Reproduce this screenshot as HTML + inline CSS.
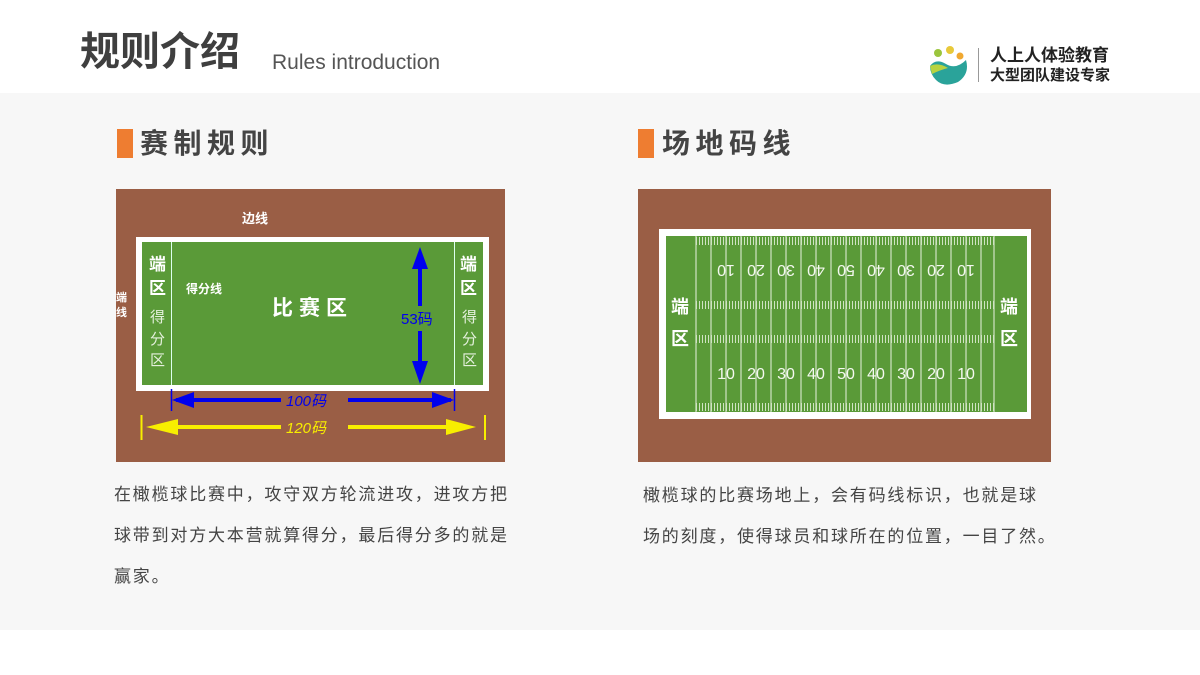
<!DOCTYPE html>
<html><head><meta charset="utf-8"><style>
body{margin:0;width:1200px;height:675px;background:#fff;position:relative;overflow:hidden;font-family:"Liberation Sans","Noto Sans CJK SC",sans-serif}
.band{position:absolute;left:0;top:93px;width:1200px;height:537px;background:#f7f7f7}
.abs{position:absolute}
.h1{left:80px;top:26px;font-size:40px;font-weight:bold;color:#3f3f3f;line-height:52px}
.en{left:272px;top:50px;font-size:21px;color:#555;line-height:26px}
.bar{width:16px;height:29px;background:#ee7d31}
.h2{font-size:28px;font-weight:bold;color:#444;letter-spacing:5.5px;line-height:34px}
.p{font-size:17px;color:#444;line-height:41px;letter-spacing:1.8px;white-space:nowrap}
</style></head><body>
<div class="band"></div>
<div class="abs h1">规则介绍</div>
<div class="abs en">Rules introduction</div>
<svg class="abs" style="left:926px;top:44px" width="46" height="42" viewBox="0 0 46 42">
<circle cx="12" cy="9" r="4" fill="#9bc53d"/><circle cx="24" cy="6" r="4" fill="#e8c93a"/><circle cx="34" cy="12" r="3.5" fill="#f0a830"/>
<path d="M4 22 Q10 14 20 20 Q30 26 40 16 Q44 30 32 38 Q18 44 10 36 Q4 30 4 22Z" fill="#2aa39a"/>
<path d="M4 22 Q12 18 22 24 Q14 26 6 30Z" fill="#b8d340"/></svg>
<div class="abs" style="left:978px;top:48px;width:1px;height:34px;background:#999"></div>
<div class="abs" style="left:990px;top:46px;font-size:17px;font-weight:bold;color:#222;line-height:19px">人上人体验教育<br><span style="font-size:15px">大型团队建设专家</span></div>

<div class="abs bar" style="left:117px;top:129px"></div>
<div class="abs h2" style="left:140px;top:127px">赛制规则</div>
<div class="abs bar" style="left:638px;top:129px"></div>
<div class="abs h2" style="left:662px;top:127px">场地码线</div>

<svg class="abs" style="left:116px;top:189px" width="389" height="273" viewBox="0 0 389 273" font-family="Liberation Sans, Noto Sans CJK SC, sans-serif">
<rect width="389" height="273" fill="#9a5e45"/>
<rect x="20" y="48" width="353" height="154" fill="#fff"/>
<rect x="26" y="53" width="341" height="143" fill="#5a9a38"/>
<line x1="55.5" y1="53" x2="55.5" y2="196" stroke="#dfe" stroke-width="1"/>
<line x1="338.5" y1="53" x2="338.5" y2="196" stroke="#dfe" stroke-width="1"/>
<text x="126" y="34" fill="#fff" font-size="13" font-weight="bold">边线</text>
<text x="0" y="112" fill="#fff" font-size="11" font-weight="bold">端</text>
<text x="0" y="127" fill="#fff" font-size="11" font-weight="bold">线</text>
<g fill="#fff" font-size="17" font-weight="bold"><text x="33" y="81">端</text><text x="33" y="105">区</text><text x="344" y="81">端</text><text x="344" y="105">区</text></g>
<g fill="#e4f0dc" font-size="15"><text x="34" y="133">得</text><text x="34" y="155">分</text><text x="34" y="176">区</text><text x="346" y="133">得</text><text x="346" y="155">分</text><text x="346" y="176">区</text></g>
<text x="70" y="104" fill="#fff" font-size="12" font-weight="bold">得分线</text>
<text x="156" y="126" fill="#fff" font-size="21" font-weight="bold" letter-spacing="6">比赛区</text>
<g fill="#0000ee" stroke="#0000ee">
<line x1="304" y1="72" x2="304" y2="117" stroke-width="4"/><polygon points="296,80 304,58 312,80" stroke="none"/>
<line x1="304" y1="142" x2="304" y2="180" stroke-width="4"/><polygon points="296,172 304,195 312,172" stroke="none"/>
<line x1="60" y1="211" x2="165" y2="211" stroke-width="4"/><polygon points="78,203 56,211 78,219" stroke="none"/>
<line x1="232" y1="211" x2="335" y2="211" stroke-width="4"/><polygon points="316,203 338,211 316,219" stroke="none"/>
<line x1="55.5" y1="200" x2="55.5" y2="222" stroke-width="1.5"/><line x1="338.5" y1="200" x2="338.5" y2="222" stroke-width="1.5"/>
</g>
<text x="285" y="135" fill="#0000ee" font-size="15">53码</text>
<text x="170" y="217" fill="#0000ee" font-size="15" font-style="italic">100码</text>
<g fill="#f8ee00" stroke="#f8ee00">
<line x1="40" y1="238" x2="165" y2="238" stroke-width="4"/><polygon points="62,230 30,238 62,246" stroke="none"/>
<line x1="232" y1="238" x2="345" y2="238" stroke-width="4"/><polygon points="330,230 360,238 330,246" stroke="none"/>
<line x1="25.5" y1="226" x2="25.5" y2="251" stroke-width="2"/><line x1="369" y1="226" x2="369" y2="251" stroke-width="2"/>
</g>
<text x="170" y="244" fill="#f8ee00" font-size="15" font-style="italic">120码</text>
</svg>

<svg class="abs" style="left:638px;top:189px" width="413" height="273" viewBox="0 0 413 273" font-family="Liberation Sans, Noto Sans CJK SC, sans-serif">
<rect width="413" height="273" fill="#9a5e45"/>
<rect x="21" y="40" width="372" height="190" fill="#fff"/>
<rect x="28" y="47" width="361" height="176" fill="#5a9a38"/>
<g stroke="#e8f2e0" stroke-width="1">
<line x1="58" y1="47" x2="58" y2="223"/><line x1="356" y1="47" x2="356" y2="223"/>
<line x1="73" y1="47" x2="73" y2="223"/><line x1="88" y1="47" x2="88" y2="223"/><line x1="103" y1="47" x2="103" y2="223"/><line x1="118" y1="47" x2="118" y2="223"/><line x1="133" y1="47" x2="133" y2="223"/><line x1="148" y1="47" x2="148" y2="223"/><line x1="163" y1="47" x2="163" y2="223"/><line x1="178" y1="47" x2="178" y2="223"/><line x1="193" y1="47" x2="193" y2="223"/><line x1="208" y1="47" x2="208" y2="223"/><line x1="223" y1="47" x2="223" y2="223"/><line x1="238" y1="47" x2="238" y2="223"/><line x1="253" y1="47" x2="253" y2="223"/><line x1="268" y1="47" x2="268" y2="223"/><line x1="283" y1="47" x2="283" y2="223"/><line x1="298" y1="47" x2="298" y2="223"/><line x1="313" y1="47" x2="313" y2="223"/><line x1="328" y1="47" x2="328" y2="223"/><line x1="343" y1="47" x2="343" y2="223"/>
</g>
<g stroke="#cfe3c2" stroke-width="0.6" stroke-dasharray="1 2">
<line x1="58" y1="52" x2="356" y2="52" stroke-width="8"/><line x1="58" y1="116" x2="356" y2="116" stroke-width="8"/><line x1="58" y1="150" x2="356" y2="150" stroke-width="8"/><line x1="58" y1="218" x2="356" y2="218" stroke-width="8"/>
</g>
<g fill="#fff" font-size="18" font-weight="bold"><text x="33" y="124">端</text><text x="33" y="156">区</text><text x="362" y="124">端</text><text x="362" y="156">区</text></g>
<g fill="#f4f8f0" font-size="16" text-anchor="middle">
<text x="88" y="190">10</text><text x="118" y="190">20</text><text x="148" y="190">30</text><text x="178" y="190">40</text><text x="208" y="190">50</text><text x="238" y="190">40</text><text x="268" y="190">30</text><text x="298" y="190">20</text><text x="328" y="190">10</text>
<g transform="rotate(180 208 82)"><text x="88" y="88">10</text><text x="118" y="88">20</text><text x="148" y="88">30</text><text x="178" y="88">40</text><text x="208" y="88">50</text><text x="238" y="88">40</text><text x="268" y="88">30</text><text x="298" y="88">20</text><text x="328" y="88">10</text></g>
</g>
</svg>

<div class="abs p" style="left:114px;top:474px">在橄榄球比赛中，攻守双方轮流进攻，进攻方把<br>球带到对方大本营就算得分，最后得分多的就是<br>赢家。</div>
<div class="abs p" style="left:643px;top:475px">橄榄球的比赛场地上，会有码线标识，也就是球<br>场的刻度，使得球员和球所在的位置，一目了然。</div>
</body></html>
